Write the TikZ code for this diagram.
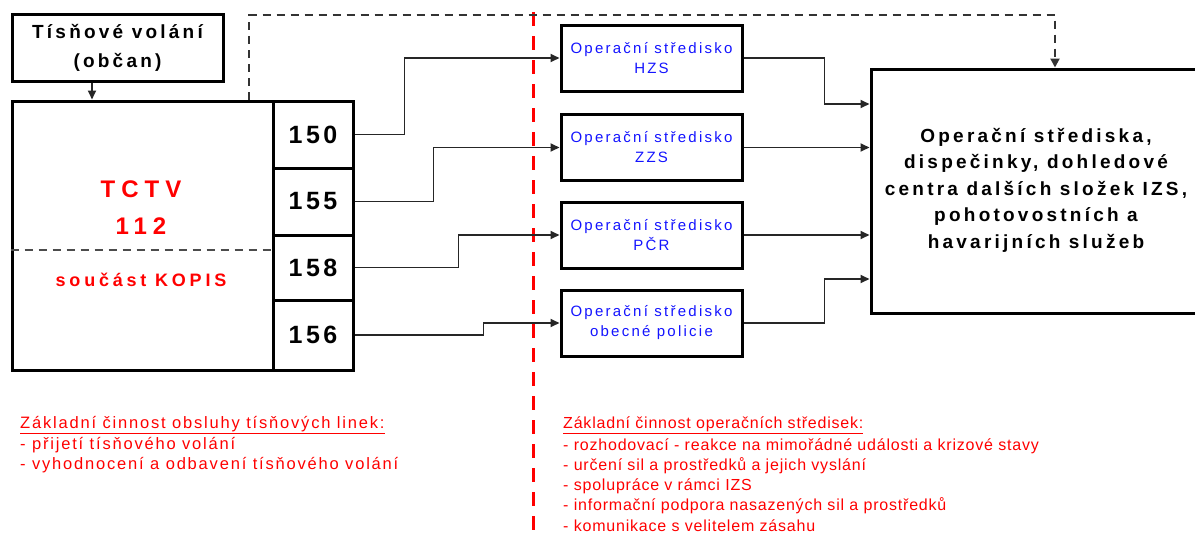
\documentclass[tikz,border=0pt]{standalone}
\usepackage{fontspec}
\setmainfont{Liberation Sans}
\usetikzlibrary{arrows.meta}
\definecolor{tred}{RGB}{255,0,0}
\definecolor{tblue}{RGB}{20,20,255}
\newcommand{\lspace}[1]{\addfontfeatures{LetterSpace=#1}}
\tikzset{
  x=1pt, y=-1pt,
  box/.style={draw=black, line width=3pt, inner sep=0pt, align=center},
  midbox/.style={box, minimum width=181pt, minimum height=66pt,
    text=tblue, font=\fontsize{15}{20}\selectfont\lspace{15}},
  numbox/.style={box, minimum width=80pt,
    font=\fontsize{25}{28}\selectfont\bfseries\lspace{14}},
  conn/.style={draw=black!85, line width=1.8pt,
    -{Triangle[length=9pt,width=8pt]}},
  blackdash/.style={draw=black!80, line width=2pt, dash pattern=on 8pt off 6pt},
  reddash/.style={draw=tred, line width=3pt, dash pattern=on 14pt off 10pt},
  redtext/.style={anchor=west, text=tred, inner sep=0pt,
    font=\fontsize{16}{18}\selectfont\lspace{5}},
  redtextwide/.style={redtext, font=\fontsize{16.5}{18}\selectfont\lspace{11}},
}
\begin{document}
\begin{tikzpicture}
\useasboundingbox (0,0) rectangle (1195,533);
\fill[white] (0,0) rectangle (1195,533);

% caller
\node[box, minimum width=211pt, minimum height=67pt,
  font=\fontsize{19}{29}\selectfont\bfseries\lspace{17}] (tis) at (117.5,47.5)
  {\raisebox{-2pt}{Tísňové volání}\\\raisebox{-2pt}{(občan)}};

% emergency call centre with its numbers
\node[box, minimum width=261pt, minimum height=269pt] (tctv) at (142.5,235.5) {};
\node[numbox, minimum height=67pt] (n150) at (313,134.5) {150};
\node[numbox, minimum height=67pt] (n155) at (313,201.5) {155};
\node[numbox, minimum height=65pt] (n158) at (313,267.5) {158};
\node[numbox, minimum height=70pt] (n156) at (313,335) {156};
\draw[draw=black!70, line width=2pt, dash pattern=on 8pt off 6pt]
  (tctv.west |- 0,250) -- (tctv.east |- 0,250);
\node[text=tred, align=center, inner sep=0pt,
  font=\fontsize{24}{37}\selectfont\bfseries\lspace{25}] (tctvlbl) at (141,208)
  {TCTV\\112};
\node[text=tred, inner sep=0pt,
  font=\fontsize{18}{20}\selectfont\bfseries\lspace{21}] (kopis) at (141,280)
  {součást KOPIS};

% dividing line
\coordinate (rt) at (533,12);
\coordinate (rb) at (533,533);
\draw[reddash] (rt) -- (rb);

% operational centres
\node[midbox] (hzs) at (651.5,58) {Operační středisko\\HZS};
\node[midbox] (zzs) at (651.5,147.5) {Operační středisko\\ZZS};
\node[midbox] (pcr) at (651.5,235) {Operační středisko\\PČR};
\node[midbox] (obp) at (651.5,323) {Operační středisko\\obecné policie};

% other services
\node[box, minimum width=329pt, minimum height=244pt] (ops) at (1035.5,191) {};
\node[align=center, inner sep=0pt,
  font=\fontsize{19}{26.5}\selectfont\bfseries\lspace{17}] (opstxt) at (1036,190)
  {Operační střediska,\\dispečinky, dohledové\\centra dalších složek IZS,\\pohotovostních a\\havarijních služeb};

% connectors
\draw[conn] ([xshift=-25.5pt]tis.south) -- ([xshift=-25.5pt]tis.south |- tctv.north);
\draw[conn] (n150.east) -- ++(50,0) |- (hzs.west);
\draw[conn] (n155.east) -- ++(79,0) |- (zzs.west);
\draw[conn] (n158.east) -- ++(104,0) |- (pcr.west);
\draw[conn] (n156.east) -- ++(129,0) |- (obp.west);
\draw[conn] (hzs.east) -- ++(81,0) |- ([yshift=87pt]ops.west);
\draw[conn] (zzs.east) -- (zzs.east -| ops.west);
\draw[conn] (pcr.east) -- (pcr.east -| ops.west);
\draw[conn] (obp.east) -- ++(81,0) |- ([yshift=-88pt]ops.west);
\draw[blackdash, -{Triangle[length=9pt,width=9pt]}]
  (tctv.north -| 249,0) -- (249,15) -| ([xshift=19.5pt]ops.north);

% activity lists
\node[redtextwide] (l0) at (20,425) {\underline{Základní činnost obsluhy tísňových linek:}};
\node[redtextwide] (l1) at (20,445) {- přijetí tísňového volání};
\node[redtextwide] (l2) at (20,465) {- vyhodnocení a odbavení tísňového volání};

\node[redtext] (r0) at (563,425) {\underline{Základní činnost operačních středisek:}};
\node[redtext] (r1) at (563,446) {- rozhodovací - reakce na mimořádné události a krizové stavy};
\node[redtext] (r2) at (563,466) {- určení sil a prostředků a jejich vyslání};
\node[redtext] (r3) at (563,486) {- spolupráce v rámci IZS};
\node[redtext] (r4) at (563,506) {- informační podpora nasazených sil a prostředků};
\node[redtext] (r5) at (563,526) {- komunikace s velitelem zásahu};
\end{tikzpicture}
\end{document}
